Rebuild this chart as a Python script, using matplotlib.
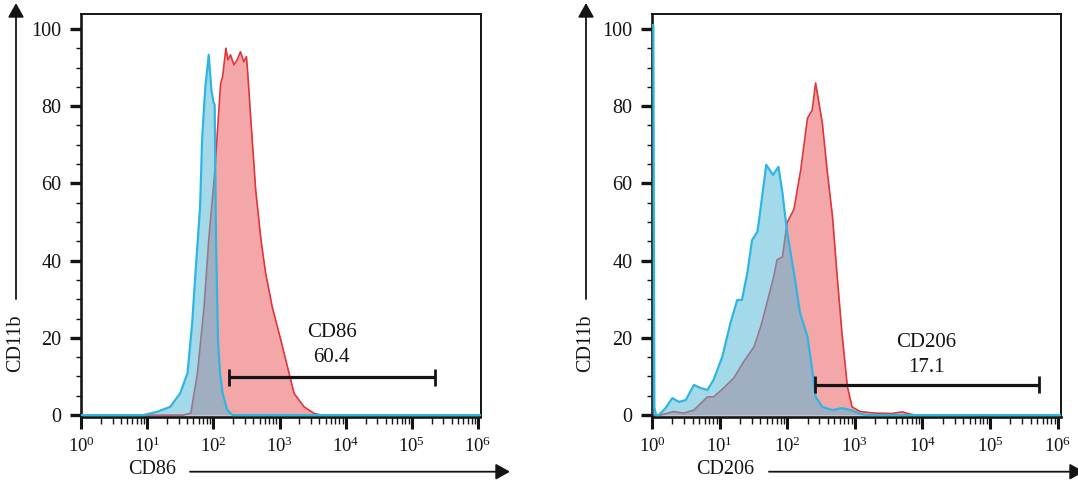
import numpy as np
import matplotlib
matplotlib.use("Agg")
import matplotlib.pyplot as plt
from matplotlib.ticker import FixedLocator, FixedFormatter, LogLocator, NullFormatter
from matplotlib.patches import FancyArrowPatch, ArrowStyle

plt.rcParams['font.family'] = ['Liberation Serif', 'DejaVu Serif']
plt.rcParams['mathtext.fontset'] = 'custom'
plt.rcParams['mathtext.rm'] = 'Liberation Serif'

# ---------------- data (log10 intensity, % of max) ----------------
cd86_iso_log = [0.0, 0.94, 1.15, 1.35, 1.50, 1.61, 1.68, 1.73, 1.80, 1.83, 1.86, 1.88,
                1.93, 1.97, 2.00, 2.02, 2.025, 2.04, 2.07, 2.10, 2.14, 2.21, 2.29, 6.04]
cd86_iso_val = [0, 0, 0.85, 2.15, 5.7, 10.9, 23.8, 36.8, 54, 71.2, 79.9, 85,
                93.3, 84.2, 81.2, 80.3, 71.2, 45.3, 19.4, 10.9, 5.7, 1.3, 0, 0]

cd86_stain_log = [0.0, 1.55, 1.66, 1.76, 1.86, 1.93, 2.02, 2.07, 2.11, 2.14, 2.19, 2.22,
                  2.26, 2.31, 2.36, 2.41, 2.46, 2.50, 2.52, 2.57, 2.64, 2.72, 2.79, 2.89,
                  3.02, 3.12, 3.22, 3.37, 3.52, 3.63, 6.04]
cd86_stain_val = [0, 0, 0.5, 10.9, 28, 45.3, 62.7, 75.6, 85.9, 87.6, 95, 92,
                  93.3, 90.7, 92, 94.1, 91.5, 92.8, 88.5, 75.6, 58.3, 45.3, 36.8, 28,
                  19.4, 12.5, 5.6, 2.15, 0.45, 0, 0]

cd206_iso_log = [0.0, 0.02, 0.035, 0.06, 0.10, 0.20, 0.30, 0.40, 0.50, 0.62, 0.72, 0.82,
                 0.91, 1.04, 1.16, 1.26, 1.33, 1.41, 1.48, 1.56, 1.61, 1.69, 1.79, 1.87,
                 1.93, 2.00, 2.10, 2.19, 2.30, 2.37, 2.42, 2.52, 2.67, 2.81, 2.94, 3.08,
                 3.2, 6.05]
cd206_iso_val = [101, 101, 2, 0, 0, 1.8, 4.4, 3.4, 3.9, 7.8, 7, 6.5,
                 9.1, 15.1, 23.8, 29.8, 29.8, 36.8, 45.3, 47.5, 54, 64.8, 62.2, 64.3,
                 57.5, 47.2, 36.8, 26.4, 20.3, 11.7, 4.7, 2.1, 1.3, 1.8, 1.3, 0.3,
                 0, 0]

cd206_stain_log = [0.0, 0.125, 0.32, 0.47, 0.62, 0.82, 0.91, 1.06, 1.21, 1.36, 1.51, 1.61,
                   1.70, 1.80, 1.85, 1.93, 2.00, 2.10, 2.20, 2.30, 2.37, 2.42, 2.52, 2.59,
                   2.67, 2.74, 2.81, 2.89, 2.96, 3.08, 3.3, 3.55, 3.65, 3.71, 3.78, 3.9, 6.05]
cd206_stain_val = [0, 0, 0.9, 0.5, 1.3, 4.7, 4.7, 7, 9.6, 13.9, 17.7, 23,
                   29, 35.8, 40.2, 41, 49.9, 53.3, 63.5, 76.9, 79, 86, 75.6, 63.5,
                   51.4, 35.8, 21.2, 7.4, 2.1, 0.9, 0.5, 0.4, 0.7, 0.8, 0.4, 0, 0]

panels = [
    dict(marker="CD86", gate_label="60.4", gate=(2.24, 5.35), gate_y=9.8,
         text_x=3.79, text_y1=21.4, text_y2=14.8,
         iso=(cd86_iso_log, cd86_iso_val), stain=(cd86_stain_log, cd86_stain_val)),
    dict(marker="CD206", gate_label="17.1", gate=(2.41, 5.73), gate_y=7.8,
         text_x=4.06, text_y1=18.8, text_y2=12.3,
         iso=(cd206_iso_log, cd206_iso_val), stain=(cd206_stain_log, cd206_stain_val)),
]
major_exps = [0, 1, 2, 3, 4, 5, 6]
y_major = [0, 20, 40, 60, 80, 100]
y_minor = [5, 10, 15, 25, 30, 35, 45, 50, 55, 65, 70, 75, 85, 90, 95]

# ---------------- layout (pixels) ----------------
W, H = 1078, 487
fig = plt.figure(figsize=(W / 100, H / 100), dpi=100)

# axes: left px, right px, xmax exponent
ax_geom = [(81.0, 480.5, 6.037), (652.0, 1061.0, 6.05)]
top_px, bot_px = 13.5, 416.8
ylim = (-0.45, 104.0)

red_line = '#e0353b'
red_fill = '#f4a7a9'
blue_line = '#2eb6e3'
blue_fill = '#52b6d8'
ink = '#141414'

for (lpx, rpx, xmax), p in zip(ax_geom, panels):
    ax = fig.add_axes([lpx / W, 1 - bot_px / H, (rpx - lpx) / W, (bot_px - top_px) / H])
    ax.set_xscale('log')
    ax.set_xlim(1, 10 ** xmax)
    ax.set_ylim(*ylim)

    xs = 10 ** np.array(p['stain'][0])
    ys = np.array(p['stain'][1])
    ax.fill_between(xs, 0, ys, color=red_fill, lw=0, zorder=1)
    ax.plot(xs, ys, color=red_line, lw=1.2, zorder=2)

    xi = 10 ** np.array(p['iso'][0])
    yi = np.array(p['iso'][1])
    ax.fill_between(xi, 0, yi, color=blue_fill, alpha=0.52, lw=0, zorder=3)
    ax.plot(xi, yi, color=blue_line, lw=1.6, zorder=4, solid_joinstyle='round')

    # gate
    g0, g1 = 10 ** p['gate'][0], 10 ** p['gate'][1]
    gy = p['gate_y']
    ax.plot([g0, g1], [gy, gy], color=ink, lw=2.3, zorder=5, solid_capstyle='butt')
    for gx in (g0, g1):
        ax.plot([gx, gx], [gy - 2.2, gy + 2.2], color=ink, lw=2.0, zorder=5,
                solid_capstyle='butt')
    ax.text(10 ** p['text_x'], p['text_y1'], p['marker'], ha='center', va='center',
            fontsize=15, color=ink)
    ax.text(10 ** p['text_x'], p['text_y2'], p['gate_label'], ha='center', va='center',
            fontsize=15, color=ink)

    # ticks
    ax.xaxis.set_major_locator(FixedLocator([10.0 ** e for e in major_exps]))
    ax.xaxis.set_major_formatter(FixedFormatter(
        [r'$\mathregular{10^{%d}}$' % e for e in major_exps]))
    ax.xaxis.set_minor_locator(LogLocator(base=10, subs=np.arange(2, 10), numticks=20))
    ax.xaxis.set_minor_formatter(NullFormatter())
    ax.yaxis.set_major_locator(FixedLocator(y_major))
    ax.yaxis.set_minor_locator(FixedLocator(y_minor))
    ax.tick_params(axis='x', which='major', direction='out', length=8.5, width=2.2,
                   labelsize=13.5, pad=6, color=ink, labelcolor=ink)
    ax.tick_params(axis='x', which='minor', direction='out', length=5, width=1.0, color=ink)
    ax.tick_params(axis='y', which='major', direction='out', length=7.7, width=2.4,
                   labelsize=14.5, pad=6.5, color=ink, labelcolor=ink)
    ax.tick_params(axis='y', which='minor', direction='out', length=3.6, width=1.0, color=ink)
    for s in ('left', 'bottom'):
        ax.spines[s].set_linewidth(1.9)
        ax.spines[s].set_color(ink)
    for s in ('top', 'right'):
        ax.spines[s].set_linewidth(1.4)
        ax.spines[s].set_color(ink)

# ---------------- axis arrows and labels (figure pixels) ----------------
def px(x, y):
    return (x / W, 1 - y / H)

astyle = ArrowStyle('-|>', head_length=8.6, head_width=4.8)
arrows = [((16, 299), (16, 3)), ((586, 299), (586, 3)),
          ((190, 471.7), (510, 471.7)), ((769, 471.7), (1084, 471.7))]
for a, b in arrows:
    fig.add_artist(FancyArrowPatch(px(*a), px(*b), transform=fig.transFigure,
                                   arrowstyle=astyle, mutation_scale=1, lw=1.3,
                                   color=ink, shrinkA=0, shrinkB=0))

fig.text(*px(15.7, 343), 'CD11b', rotation=90, ha='center', va='center',
         fontsize=14.5, color=ink)
fig.text(*px(586, 343), 'CD11b', rotation=90, ha='center', va='center',
         fontsize=14.5, color=ink)
fig.text(*px(152.5, 470), 'CD86', ha='center', va='center', fontsize=14.5, color=ink)
fig.text(*px(725, 470), 'CD206', ha='center', va='center', fontsize=14.5, color=ink)

fig.savefig('out.png', dpi=100)
